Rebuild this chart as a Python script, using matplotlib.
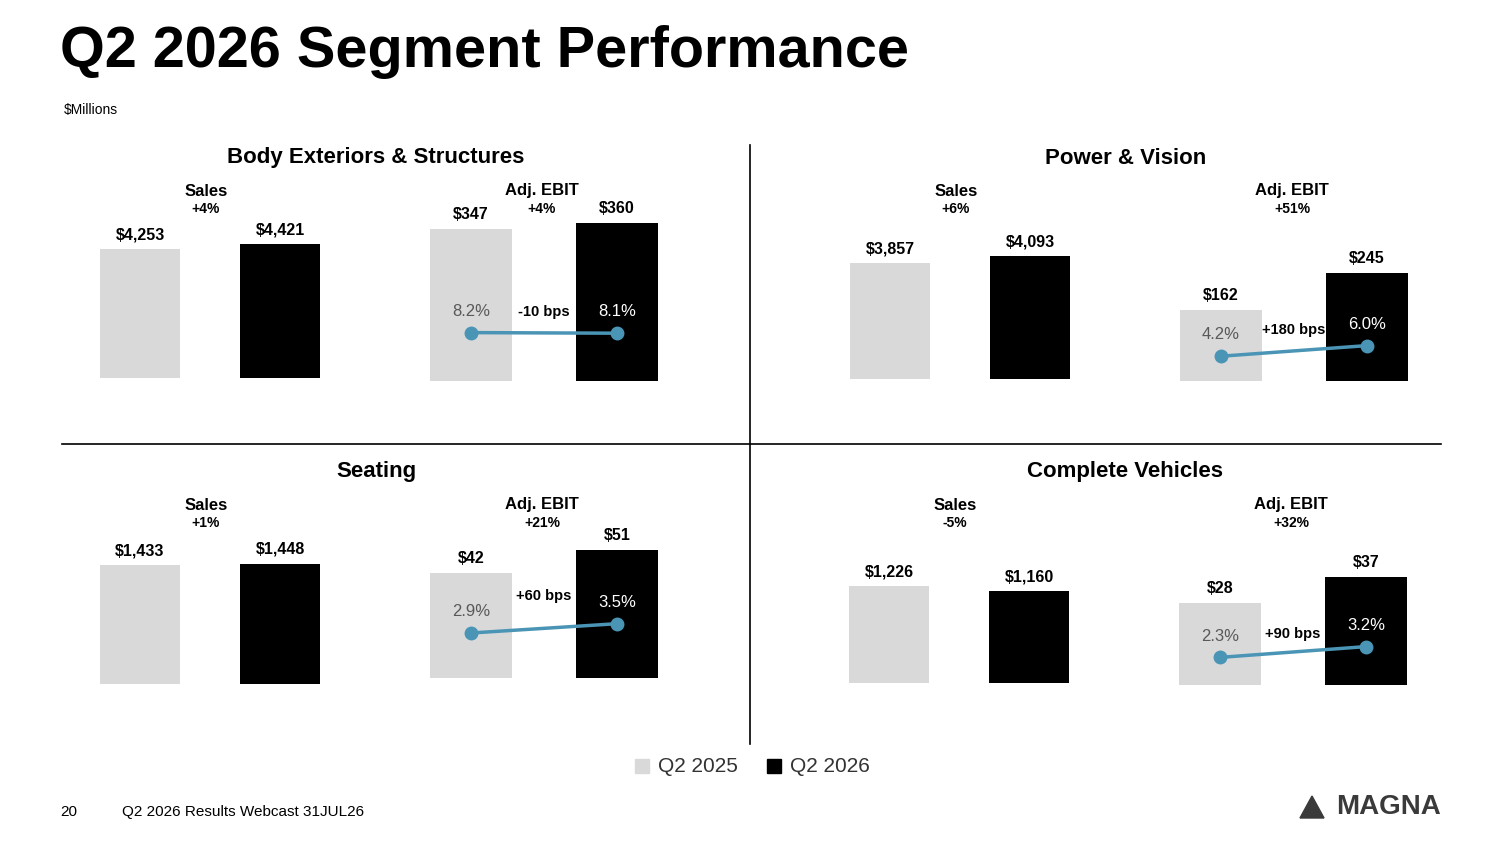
import matplotlib
matplotlib.use("Agg")
import matplotlib.pyplot as plt
from matplotlib.patches import Rectangle

plt.rcParams['font.family'] = ['Liberation Sans', 'DejaVu Sans']

W, H = 1500, 844
GREY = '#D9D9D9'
BLUE = '#4A95B5'

segments = ["Body Exteriors & Structures", "Power & Vision", "Seating", "Complete Vehicles"]
sales_2025 = [4253, 3857, 1433, 1226]
sales_2026 = [4421, 4093, 1448, 1160]
sales_growth = ["+4%", "+6%", "+1%", "-5%"]
ebit_2025 = [347, 162, 42, 28]
ebit_2026 = [360, 245, 51, 37]
ebit_growth = ["+4%", "+51%", "+21%", "+32%"]
margin_2025 = [8.2, 4.2, 2.9, 2.3]
margin_2026 = [8.1, 6.0, 3.5, 3.2]
margin_change = ["-10 bps", "+180 bps", "+60 bps", "+90 bps"]

# layout (pixels)
x0_panel = [0, 750, 0, 749]
title_y = [158, 158, 472, 472]
sales_base = [378, 379, 684, 683]
ebit_base = [381, 381, 678, 685]
sales_fill = [0.744, 0.683, 0.667, 0.539]
ebit_fill = [0.878, 0.60, 0.711, 0.60]
margin_top = [30.5, 30.5, 11.6, 15.0]
bps_off = [10, 10, 18, 8]
AX_H = 180

fig = plt.figure(figsize=(15, 8.44), dpi=100)


def fx(x):
    return x / W


def fy(y):
    return 1 - y / H


def bar_axes(left, width, base):
    ax = fig.add_axes([fx(left), fy(base), fx(width), AX_H / H])
    ax.set_xlim(-0.5, 1.5)
    ax.axis('off')
    return ax


for i, seg in enumerate(segments):
    ox = x0_panel[i]
    hy = title_y[i]
    fig.text(fx(ox + 376), fy(hy), seg, ha='center', va='center', fontsize=16, fontweight='bold')

    # sales
    ax = bar_axes(ox + 70, 280, sales_base[i])
    vals = [sales_2025[i], sales_2026[i]]
    ax.set_ylim(0, max(vals) / sales_fill[i])
    ax.bar([0, 1], vals, width=0.571, color=[GREY, 'black'])
    for k, v in enumerate(vals):
        ax.annotate(f"${v:,}", (k, v), xytext=(0, 5), textcoords='offset points',
                    ha='center', va='bottom', fontsize=11.5, fontweight='bold')
    fig.text(fx(ox + 206), fy(hy + 33), "Sales", ha='center', va='center', fontsize=12, fontweight='bold')
    fig.text(fx(ox + 206), fy(hy + 51), sales_growth[i], ha='center', va='center', fontsize=10, fontweight='bold')

    # adj. EBIT
    ax = bar_axes(ox + 398, 292, ebit_base[i])
    vals = [ebit_2025[i], ebit_2026[i]]
    ax.set_ylim(0, max(vals) / ebit_fill[i])
    ax.bar([0, 1], vals, width=0.56, color=[GREY, 'black'])
    for k, v in enumerate(vals):
        ax.annotate(f"${v:,}", (k, v), xytext=(0, 5), textcoords='offset points',
                    ha='center', va='bottom', fontsize=11.5, fontweight='bold')
    fig.text(fx(ox + 542), fy(hy + 33), "Adj. EBIT", ha='center', va='center', fontsize=12, fontweight='bold')
    fig.text(fx(ox + 542), fy(hy + 51), ebit_growth[i], ha='center', va='center', fontsize=10, fontweight='bold')

    tw = ax.twinx()
    tw.axis('off')
    tw.set_ylim(0, margin_top[i])
    m = [margin_2025[i], margin_2026[i]]
    tw.plot([0, 1], m, color=BLUE, lw=2.5, marker='o', ms=9)
    for k, v in enumerate(m):
        tw.annotate(f"{v:.1f}%", (k, v), xytext=(0, 10), textcoords='offset points',
                    ha='center', va='bottom', fontsize=12, color='#595959' if k == 0 else 'white')
    tw.annotate(margin_change[i], (0.5, sum(m) / 2), xytext=(0, bps_off[i]), textcoords='offset points',
                ha='center', va='bottom', fontsize=10.5, fontweight='bold')

# dividers
fig.add_artist(plt.Line2D([fx(62), fx(1441)], [fy(444), fy(444)], color='black', lw=1.2))
fig.add_artist(plt.Line2D([fx(750), fx(750)], [fy(145), fy(744)], color='black', lw=1.2))

# title etc.
fig.text(fx(60), fy(52), "Q2 2026 Segment Performance", ha='left', va='center', fontsize=41.5, fontweight='bold')
fig.text(fx(64), fy(110), "$Millions", ha='left', va='center', fontsize=10)

# legend
for lx, lab, c in [(635, "Q2 2025", GREY), (767, "Q2 2026", 'black')]:
    fig.add_artist(Rectangle((fx(lx), fy(773)), fx(14), 14 / H, color=c, transform=fig.transFigure))
    fig.text(fx(lx + 23), fy(766), lab, ha='left', va='center', fontsize=15, color='#333333')

# footer
fig.text(fx(60), fy(812), "20", ha='left', va='center', fontsize=11)
fig.text(fx(122), fy(812), "Q2 2026 Results Webcast 31JUL26", ha='left', va='center', fontsize=11)
fig.text(fx(1441), fy(807), "MAGNA", ha='right', va='center', fontsize=20, fontweight='black',
         color='#3a3a3a')
fig.add_artist(plt.Polygon([[fx(1300), fy(818)], [fx(1312), fy(796)], [fx(1324), fy(818)]],
                           closed=True, color='#3a3a3a', transform=fig.transFigure))

fig.savefig("out.png", dpi=100)
